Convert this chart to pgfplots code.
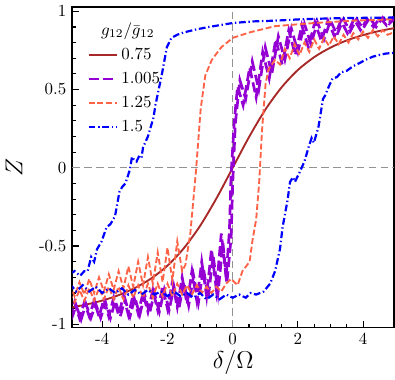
\documentclass[border=0pt]{standalone}
\usepackage{pgfplots}
\pgfplotsset{compat=1.18}
\definecolor{cbrown}{RGB}{168,40,40}
\definecolor{cviolet}{RGB}{148,0,211}
\definecolor{ctomato}{RGB}{255,99,71}
\definecolor{cblue}{RGB}{0,0,255}
\begin{document}
\begin{tikzpicture}
\begin{axis}[
scale only axis,
width=190pt,
height=189pt,
xmin=-4.92, xmax=4.95,
ymin=-1.02, ymax=1.025,
xtick={-4,-2,0,2,4},
xticklabels={-4,-2,0,2,4},
ytick={-1,-0.5,0,0.5,1},
yticklabels={-1,-0.5,0,0.5,1},
minor x tick num=3,
minor y tick num=4,
tick pos=left,
tick align=inside,
major tick length=4pt,
minor tick length=2pt,
every tick/.style={black, line width=0.7pt},
axis line style={line width=1.1pt},
xlabel={\Large$\delta/\Omega$},
ylabel={\Large$Z$},
xlabel style={yshift=4pt},
ylabel style={yshift=3pt},
extra x ticks={0},
extra x tick labels={},
extra y ticks={0},
extra y tick labels={},
extra tick style={grid=major, major grid style={dash pattern=on 4.5pt off 2.5pt, gray!85, line width=0.8pt}, major tick length=0pt},
legend style={draw=none, fill=none, at={(0.03,0.975)}, anchor=north west, cells={anchor=west}, font=\normalsize, row sep=2pt},
legend image code/.code={\draw[#1] plot coordinates {(0cm,0cm) (0.58cm,0cm)};},
]
\addlegendimage{empty legend}
\addlegendentry{\hspace*{-12pt}$g_{12}/\bar{g}_{12}$}

% 0.75
\addplot[cbrown, line width=1.1pt, smooth] coordinates {
(-5,-0.894) (-4.5,-0.874) (-4,-0.848) (-3.5,-0.814) (-3,-0.768) (-2.5,-0.707) (-2,-0.625) (-1.5,-0.514) (-1,-0.371) (-0.5,-0.196) (0,0)
(0.5,0.196) (1,0.371) (1.5,0.514) (2,0.625) (2.5,0.707) (3,0.768) (3.5,0.814) (4,0.848) (4.5,0.874) (5,0.894)};
\addlegendentry{0.75}

% 1.005
\addplot[cviolet, line width=1.6pt, dash pattern=on 6pt off 2.5pt] coordinates {
(-5.0,-0.96) (-4.85,-0.86) (-4.7,-0.96) (-4.55,-0.86) (-4.4,-0.95) (-4.25,-0.85) (-4.1,-0.95) (-3.95,-0.84)
(-3.8,-0.95) (-3.65,-0.83) (-3.5,-0.94) (-3.35,-0.82) (-3.2,-0.94) (-3.05,-0.81) (-2.9,-0.93) (-2.75,-0.80)
(-2.6,-0.92) (-2.45,-0.78) (-2.3,-0.91) (-2.15,-0.76) (-2.0,-0.90) (-1.85,-0.73) (-1.7,-0.89) (-1.55,-0.70)
(-1.4,-0.87) (-1.25,-0.66) (-1.1,-0.85) (-0.95,-0.60) (-0.8,-0.82) (-0.65,-0.52) (-0.5,-0.78) (-0.35,-0.42)
(-0.2,-0.70) (-0.1,-0.40) (-0.05,-0.05) (0.05,0.30) (0.15,0.52) (0.32,0.40) (0.52,0.64) (0.72,0.45)
(0.92,0.74) (1.12,0.57) (1.32,0.82) (1.52,0.66) (1.72,0.88) (1.92,0.72) (2.12,0.91) (2.32,0.77)
(2.52,0.93) (2.72,0.81) (2.92,0.94) (3.12,0.84) (3.32,0.94) (3.52,0.86) (3.72,0.95) (3.92,0.88)
(4.12,0.95) (4.32,0.90) (4.52,0.96) (4.72,0.91) (4.92,0.96) (5.0,0.95)};
\addlegendentry{1.005}
\addplot[cviolet, line width=1.6pt, dash pattern=on 6pt off 2.5pt, forget plot] coordinates {
(-4.95,-0.97) (-4.8,-0.88) (-4.65,-0.97) (-4.5,-0.87) (-4.35,-0.96) (-4.2,-0.87) (-4.05,-0.96) (-3.9,-0.86)
(-3.75,-0.96) (-3.6,-0.85) (-3.45,-0.95) (-3.3,-0.84) (-3.15,-0.95) (-3.0,-0.83) (-2.85,-0.94) (-2.7,-0.81)
(-2.55,-0.93) (-2.4,-0.80) (-2.25,-0.92) (-2.1,-0.78) (-1.95,-0.91) (-1.8,-0.76) (-1.65,-0.90) (-1.5,-0.73)
(-1.35,-0.88) (-1.2,-0.69) (-1.05,-0.86) (-0.9,-0.64) (-0.75,-0.83) (-0.6,-0.56) (-0.45,-0.80) (-0.3,-0.48)
(-0.18,-0.74) (-0.05,-0.45) (0.0,-0.10) (0.08,0.28) (0.22,0.56) (0.40,0.44) (0.60,0.68) (0.80,0.50)
(1.00,0.77) (1.20,0.60) (1.40,0.84) (1.60,0.69) (1.80,0.89) (2.00,0.74) (2.20,0.92) (2.40,0.79)
(2.60,0.93) (2.80,0.82) (3.00,0.94) (3.20,0.85) (3.40,0.95) (3.60,0.87) (3.80,0.95) (4.00,0.89)
(4.20,0.96) (4.40,0.90) (4.60,0.96) (4.80,0.92) (5.0,0.96)};

% 1.25
\addplot[ctomato, line width=1.1pt, dash pattern=on 3.5pt off 1.6pt] coordinates {
(-5.0,-0.74) (-4.85,-0.82) (-4.7,-0.73) (-4.55,-0.81) (-4.4,-0.71) (-4.25,-0.80) (-4.1,-0.70) (-3.95,-0.79)
(-3.8,-0.68) (-3.65,-0.78) (-3.5,-0.66) (-3.35,-0.77) (-3.2,-0.63) (-3.05,-0.76) (-2.9,-0.60) (-2.75,-0.75)
(-2.6,-0.57) (-2.45,-0.74) (-2.3,-0.54) (-2.15,-0.73) (-2.0,-0.51) (-1.85,-0.72) (-1.7,-0.47) (-1.55,-0.66)
(-1.45,-0.62) (-1.30,-0.42) (-1.13,-0.03) (-0.98,0.38) (-0.84,0.59) (-0.64,0.69) (-0.35,0.77) (0,0.83)
(0.52,0.865) (1.30,0.905) (2.5,0.925) (3.7,0.94) (5,0.95)};
\addlegendentry{1.25}
\addplot[ctomato, line width=1.1pt, dash pattern=on 3.5pt off 1.6pt, forget plot] coordinates {
(-5.0,-0.80) (-4.85,-0.86) (-4.7,-0.78) (-4.55,-0.85) (-4.4,-0.77) (-4.25,-0.85) (-4.1,-0.77) (-3.95,-0.84)
(-3.8,-0.76) (-3.65,-0.84) (-3.5,-0.76) (-3.35,-0.84) (-3.2,-0.75) (-3.05,-0.83) (-2.9,-0.75) (-2.75,-0.83)
(-2.6,-0.74) (-2.45,-0.83) (-2.3,-0.74) (-2.15,-0.82) (-2.0,-0.74) (-1.85,-0.82) (-1.7,-0.74) (-1.55,-0.81)
(-1.4,-0.75) (-1.25,-0.81) (-1.1,-0.75) (-0.95,-0.80) (-0.8,-0.76) (-0.65,-0.80) (-0.5,-0.76) (-0.35,-0.79)
(-0.2,-0.74) (-0.05,-0.71) (0.15,-0.75) (0.3,-0.66) (0.52,-0.60) (0.61,-0.46) (0.72,-0.33) (0.81,-0.10)
(0.90,0.24) (1.01,0.54) (1.10,0.63) (1.30,0.69) (1.45,0.66) (1.6,0.76) (1.75,0.70) (1.9,0.79)
(2.05,0.72) (2.2,0.80) (2.35,0.74) (2.5,0.82) (2.65,0.76) (2.8,0.83) (2.95,0.78) (3.1,0.84)
(3.25,0.79) (3.4,0.85) (3.55,0.80) (3.7,0.86) (3.85,0.82) (4.0,0.87) (4.15,0.83) (4.3,0.88)
(4.45,0.84) (4.6,0.88) (4.75,0.85) (5,0.87)};

% 1.5
\addplot[cblue, line width=1.3pt, dash pattern=on 4pt off 1.6pt on 0.8pt off 1.6pt] coordinates {
(-5.0,-0.68) (-4.85,-0.66) (-4.68,-0.69) (-4.55,-0.66) (-4.45,-0.66) (-4.34,-0.57) (-4.25,-0.60) (-4.16,-0.52)
(-4.02,-0.47) (-3.87,-0.38) (-3.75,-0.36) (-3.61,-0.31) (-3.47,-0.15) (-3.38,-0.12) (-3.29,-0.10) (-3.15,-0.01)
(-3.09,0.07) (-3.02,0.05) (-2.95,0.04) (-2.88,0.07) (-2.80,0.06) (-2.75,0.13) (-2.60,0.20) (-2.43,0.32)
(-2.37,0.40) (-2.17,0.60) (-2.02,0.77) (-1.88,0.83) (-1.70,0.85) (-1.50,0.865) (-1.10,0.885) (-0.72,0.90)
(0,0.925) (0.6,0.935) (1.30,0.94) (2.2,0.95) (3.12,0.955) (4.0,0.958) (5,0.96)};
\addlegendentry{1.5}
\addplot[cblue, line width=1.3pt, dash pattern=on 4pt off 1.6pt on 0.8pt off 1.6pt, forget plot] coordinates {
(-5.0,-0.74) (-4.8,-0.79) (-4.6,-0.75) (-4.4,-0.79) (-4.2,-0.76) (-4.0,-0.80) (-3.8,-0.77) (-3.6,-0.80)
(-3.4,-0.77) (-3.2,-0.81) (-3.0,-0.78) (-2.8,-0.81) (-2.6,-0.78) (-2.4,-0.81) (-2.2,-0.79) (-2.0,-0.82)
(-1.8,-0.79) (-1.6,-0.82) (-1.4,-0.80) (-1.2,-0.83) (-1.0,-0.80) (-0.8,-0.84) (-0.6,-0.81) (-0.4,-0.84)
(-0.2,-0.81) (0,-0.83) (0.2,-0.81) (0.4,-0.83) (0.55,-0.80) (0.72,-0.81) (0.95,-0.79) (1.15,-0.74)
(1.30,-0.66) (1.45,-0.52) (1.53,-0.38) (1.68,-0.21) (1.76,-0.09) (1.85,-0.06) (1.91,-0.09) (2.05,-0.03)
(2.20,0.04) (2.34,0.14) (2.42,0.19) (2.49,0.16) (2.63,0.26) (2.77,0.44) (2.83,0.46) (2.95,0.52)
(3.06,0.57) (3.2,0.58) (3.32,0.61) (3.5,0.62) (3.70,0.65) (3.9,0.67) (4.07,0.69) (4.3,0.71) (4.48,0.72) (4.7,0.73) (5,0.735)};
\end{axis}
\end{tikzpicture}
\end{document}
